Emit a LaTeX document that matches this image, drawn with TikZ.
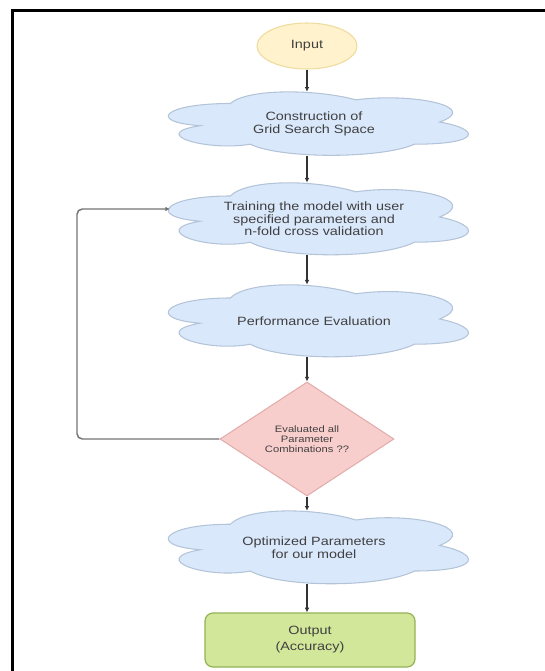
\documentclass[tikz,border=0pt]{standalone}
\usepackage{fontspec}
\setmainfont{Liberation Sans}[FakeStretch=1.2]
\usetikzlibrary{shapes.geometric,arrows.meta}
\definecolor{cloudfill}{HTML}{DAE8FC}
\definecolor{clouddraw}{HTML}{B4C4D8}
\definecolor{ellfill}{HTML}{FFF2CC}
\definecolor{elldraw}{HTML}{EEDC9E}
\definecolor{diafill}{HTML}{F8CECC}
\definecolor{diadraw}{HTML}{E2AEAC}
\definecolor{outfill}{HTML}{D2E79A}
\definecolor{outdraw}{HTML}{93B256}
\definecolor{txt}{HTML}{404040}
\newcommand\mycloud[4]{%
  \begin{scope}[shift={(#1,#2)},xscale=#3,yscale=#4]
  \draw[cloudsty] (0.25,0.25) .. controls (0.05,0.25) and (0,0.5) .. (0.16,0.55)
    .. controls (0,0.66) and (0.18,0.9) .. (0.31,0.8)
    .. controls (0.4,1) and (0.7,1) .. (0.8,0.8)
    .. controls (1,0.8) and (1,0.6) .. (0.875,0.5)
    .. controls (1,0.3) and (0.8,0.1) .. (0.625,0.2)
    .. controls (0.5,0.05) and (0.3,0.05) .. (0.25,0.25) -- cycle;
  \end{scope}}
\begin{document}
\begin{tikzpicture}[x=0.75pt,y=-0.75pt,
  cloudsty/.style={fill=cloudfill,draw=clouddraw,line width=0.8pt},
  cloudtext/.style={inner sep=0pt,minimum width=225pt,align=center,text=txt,
    font=\fontsize{9}{9.6}\selectfont},
  startnode/.style={ellipse,fill=ellfill,draw=elldraw,line width=0.8pt,inner sep=0pt,
    minimum width=75pt,minimum height=34.5pt,text=txt,font=\fontsize{9}{10}\selectfont},
  decision/.style={diamond,fill=diafill,draw=diadraw,line width=0.8pt,inner sep=0pt,
    minimum width=130.5pt,minimum height=85.5pt,align=center,text=txt,
    font=\fontsize{7}{7.6}\selectfont},
  endnode/.style={rectangle,rounded corners=6pt,fill=outfill,draw=outdraw,line width=0.9pt,
    minimum width=157.5pt,minimum height=40.5pt,align=center,text=txt,
    font=\fontsize{9}{12}\selectfont},
  arr/.style={draw=black!80,line width=1pt,-{Latex[length=3.5pt,width=3.5pt]}},
  looparr/.style={draw=black!55,line width=1.1pt,rounded corners=4pt,-{Latex[length=3.5pt,width=3.5pt]}}
]
\useasboundingbox (0,0) rectangle (544,671);
% frame
\draw[line width=2.25pt] (12.5,672) -- (12.5,10.5) -- (545,10.5);
% clouds
\mycloud{146.5}{85}{335}{74}
\mycloud{146.5}{175}{335}{84}
\mycloud{146.5}{277}{335}{84}
\mycloud{146.5}{503}{335}{85}
% nodes
\node[startnode] (In) at (307,46) {Input};
\node[cloudtext,minimum height=47.5pt] (C1) at (314,123.6) {Construction of\\Grid Search Space};
\node[cloudtext,minimum height=53.9pt] (C2) at (314,218.8) {Training the model with user\\specified parameters and\\n-fold cross validation};
\node[cloudtext,minimum height=53.9pt] (C3) at (314,320.8) {Performance Evaluation};
\node[decision] (D) at (307,439) {Evaluated all\\Parameter\\Combinations ??};
\node[cloudtext,minimum height=54.6pt] (C4) at (314,547.4) {Optimized Parameters\\for our model};
\node[endnode] (Out) at (310,640) {Output\\(Accuracy)};
\coordinate (L) at (77,209);
\coordinate (C2in) at (170,209);
% connectors
\draw[arr] (In.south) -- (C1.north -| In.south);
\draw[arr] (C1.south -| In.south) -- (C2.north -| In.south);
\draw[arr] (C2.south -| In.south) -- (C3.north -| In.south);
\draw[arr] (C3.south -| In.south) -- (D.north);
\draw[arr] (D.south) -- (C4.north -| D.south);
\draw[arr] (C4.south -| D.south) -- (Out.north -| D.south);
\draw[looparr] (D.west) -| (L) -- (C2in);
\end{tikzpicture}
\end{document}
